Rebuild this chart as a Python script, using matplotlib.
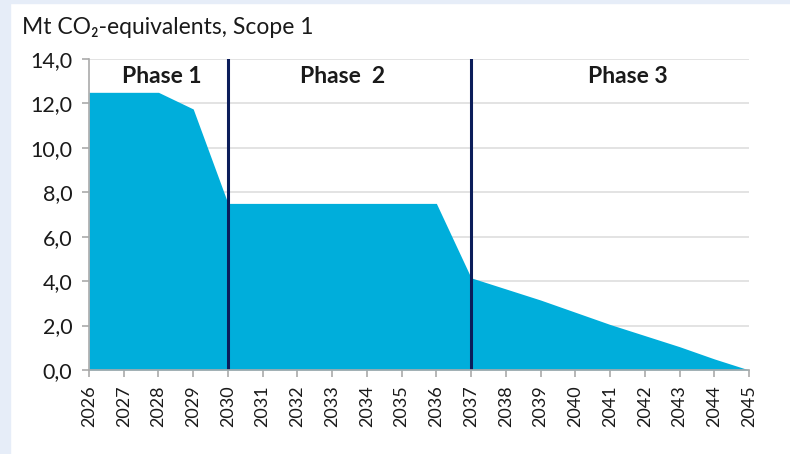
import matplotlib.pyplot as plt
from matplotlib.patches import Rectangle

# emissions path, Mt CO2-eq scope 1
years = [2026, 2027, 2028, 2029, 2030, 2031, 2032, 2033, 2034, 2035,
         2036, 2037, 2038, 2039, 2040, 2041, 2042, 2043, 2044, 2045]
emissions = [12.5, 12.5, 12.5, 11.75, 7.5, 7.5, 7.5, 7.5, 7.5, 7.5,
             7.5, 4.15, 3.65, 3.15, 2.6, 2.05, 1.55, 1.05, 0.5, 0.0]
phase_breaks = [2030, 2037]
phase_labels = ["Phase 1", "Phase  2", "Phase 3"]
phase_centers = [2028.1, 2033.3, 2041.5]
y_ticks = [0, 2, 4, 6, 8, 10, 12, 14]

plt.rcParams['font.family'] = ['Lato', 'DejaVu Sans']

fig = plt.figure(figsize=(7.9, 4.54), dpi=100)
fig.patch.set_facecolor('white')
# light frame on top and left edge
fig.patches.append(Rectangle((0, 0), 10 / 790, 1, transform=fig.transFigure,
                             color='#e6edf8', zorder=0))
fig.patches.append(Rectangle((0, 1 - 3 / 454), 1, 3 / 454, transform=fig.transFigure,
                             color='#e6edf8', zorder=0))

ax = fig.add_axes([89 / 790, 1 - 370 / 454, 660 / 790, 311 / 454])

ax.fill_between(years, emissions, 0, color='#00aedb', linewidth=0, zorder=2)
for b in phase_breaks:
    ax.plot([b, b], [0, 14], color='#0b1d5a', linewidth=2.2, zorder=3)

for lbl, xc in zip(phase_labels, phase_centers):
    ax.text(xc, 13.2, lbl, ha='center', va='center', fontsize=16.5,
            fontweight='bold', color='#1a1a1a', zorder=4)

ax.set_xlim(2026, 2045)
ax.set_ylim(0, 14)
ax.set_yticks(y_ticks)
ax.set_yticklabels([f"{v:.1f}".replace('.', ',') for v in y_ticks],
                   fontsize=15.5, color='#1a1a1a')
ax.set_xticks(years)
ax.set_xticklabels([str(y) for y in years], rotation=90, fontsize=13,
                   color='#1a1a1a')
ax.yaxis.grid(True, color='#e0e0e0', linewidth=1.3, zorder=1)
ax.set_axisbelow(True)

for s in ['top', 'right']:
    ax.spines[s].set_visible(False)
for s in ['left', 'bottom']:
    ax.spines[s].set_color('#aaaaaa')
    ax.spines[s].set_linewidth(1.2)
    ax.spines[s].set_zorder(5)
ax.tick_params(axis='both', color='#aaaaaa', length=5, width=1.2)
ax.tick_params(axis='y', pad=7)
ax.tick_params(axis='x', pad=6)

fig.text(22 / 790, 1 - 27 / 454, "Mt CO\u2082-equivalents, Scope 1", fontsize=16.5,
         color='#1a1a1a', va='center', ha='left')

fig.savefig('out.png', dpi=100)
